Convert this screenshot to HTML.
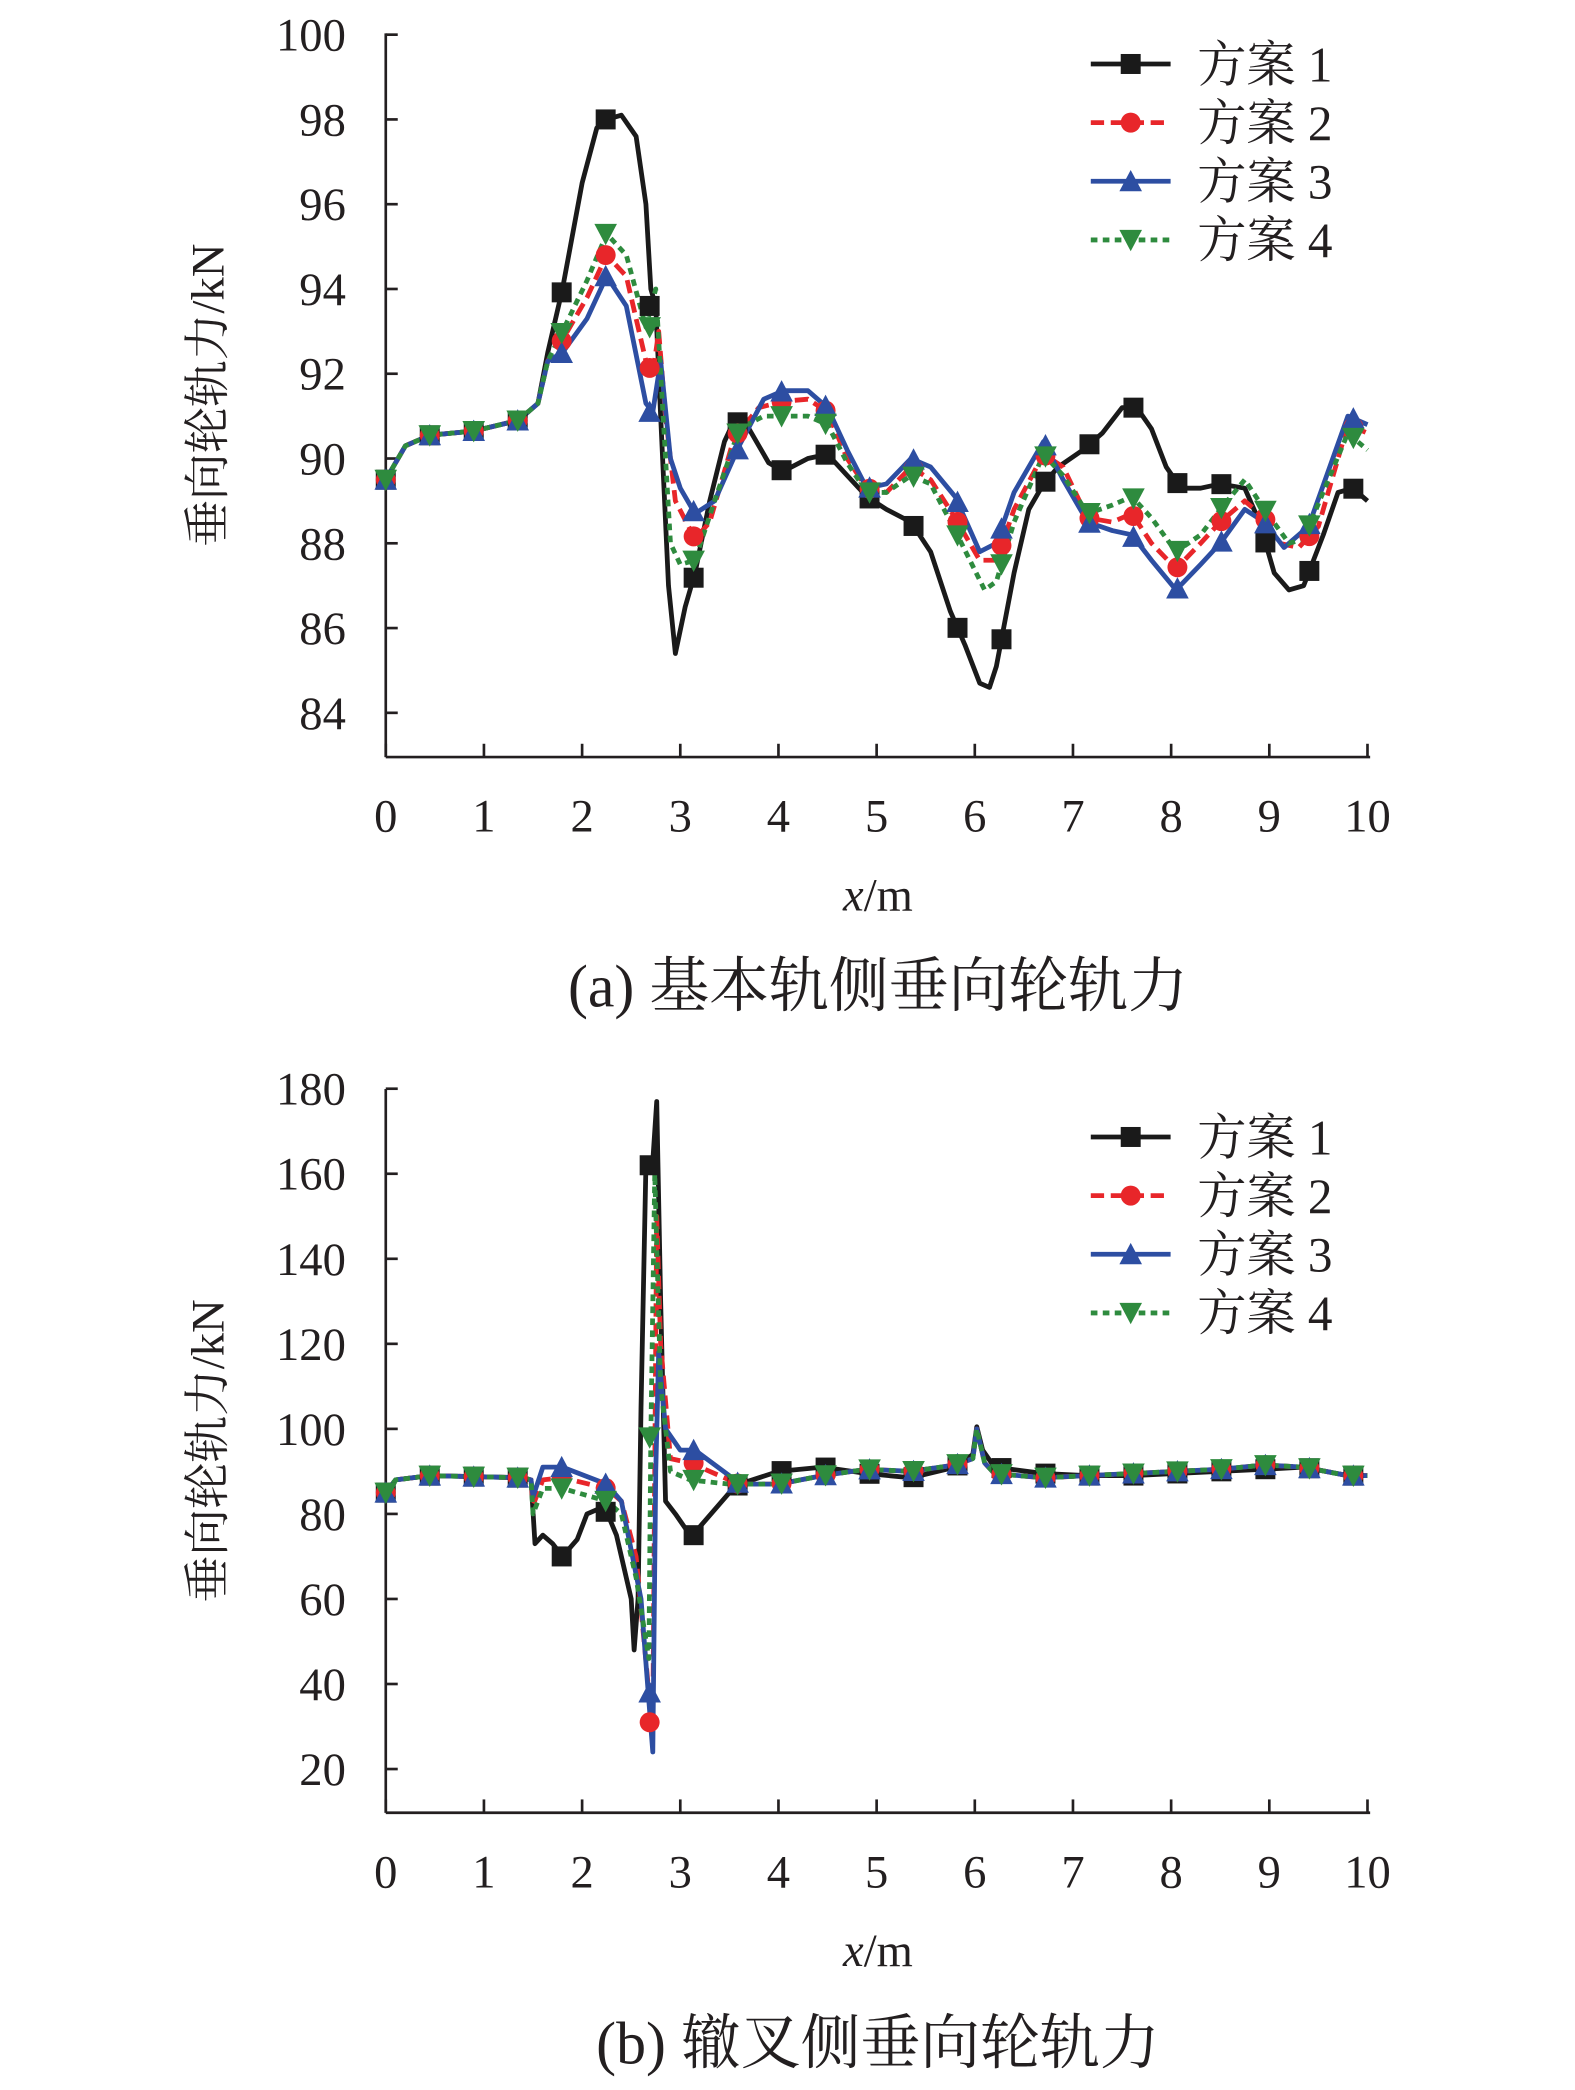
<!DOCTYPE html>
<html><head><meta charset="utf-8"><style>
html,body{margin:0;padding:0;background:#fff;}
svg{display:block;}
text{font-family:"Liberation Serif","Noto Serif CJK SC",serif;fill:#231f20;}
</style></head><body>
<svg id="s" width="1575" height="2090" viewBox="0 0 1184 1568" preserveAspectRatio="none" xmlns="http://www.w3.org/2000/svg"></svg>
<script>
const S=document.getElementById('s');let h='';
const X=v=>290+v*73.8;
const col=['#1a1a1a','#e8262a','#2d4ea2','#2e8b3e'];
const dash=['','10,5','','5,4'];
function mk(t,x,y,c){const r=7.5;
 if(t==0)return `<rect x="${x-r}" y="${y-r}" width="${2*r}" height="${2*r}" fill="${c}"/>`;
 if(t==1)return `<circle cx="${x}" cy="${y}" r="${r}" fill="${c}"/>`;
 if(t==2)return `<polygon points="${x},${y-r-1} ${x-r-1},${y+r} ${x+r+1},${y+r}" fill="${c}"/>`;
 return `<polygon points="${x},${y+r+1} ${x-r-1},${y-r} ${x+r+1},${y-r}" fill="${c}"/>`;}
function interp(d,x){for(let i=0;i<d.length-1;i++){if(x>=d[i][0]&&x<=d[i+1][0]){const t=(x-d[i][0])/(d[i+1][0]-d[i][0]||1);return d[i][1]+t*(d[i+1][1]-d[i][1]);}}return d[d.length-1][1];}
function chart(top,bot,Y,ticks,series,mkOverride,ly){
 h+=`<line x1="290" y1="${top}" x2="290" y2="${bot}" stroke="#231f20" stroke-width="2"/>`;
 h+=`<line x1="290" y1="${bot}" x2="1030" y2="${bot}" stroke="#231f20" stroke-width="2"/>`;
 for(const t of ticks){const y=Y(t);h+=`<line x1="290" y1="${y}" x2="299" y2="${y}" stroke="#231f20" stroke-width="2"/><text x="260" y="${y+12}" font-size="35" text-anchor="end">${t}</text>`;}
 for(let i=0;i<=10;i++){const x=X(i);h+=`<line x1="${x}" y1="${bot}" x2="${x}" y2="${bot-10}" stroke="#231f20" stroke-width="2"/><text x="${x}" y="${bot+56}" font-size="35" text-anchor="middle">${i}</text>`;}
 h+=`<text x="660" y="${bot+115}" font-size="35" text-anchor="middle"><tspan font-style="italic">x</tspan>/m</text>`;
 h+=`<text transform="translate(168,${(top+bot)/2}) rotate(-90)" font-size="35" text-anchor="middle">垂向轮轨力/kN</text>`;
 series.forEach((d,k)=>{h+=`<polyline fill="none" stroke="${col[k]}" stroke-width="3.6" stroke-linejoin="round" ${dash[k]?`stroke-dasharray="${dash[k]}"`:''} points="${d.map(p=>X(p[0])+','+Y(p[1])).join(' ')}"/>`;});
 series.forEach((d,k)=>{for(let i=0;i<23;i++){const xv=i*0.448;if(xv>10)break;let yv=interp(d,xv);const o=mkOverride[k]&&mkOverride[k][i];if(o!==undefined)yv=o;h+=mk(k,X(xv),Y(yv),col[k]);}});
 for(let k=0;k<4;k++){const y=ly+k*44;h+=`<line x1="820" y1="${y}" x2="880" y2="${y}" stroke="${col[k]}" stroke-width="3.6" ${dash[k]?`stroke-dasharray="${dash[k]}"`:''}/>`+mk(k,850,y,col[k])+`<text x="900" y="${y+13}" font-size="37">方案 ${k+1}</text>`;}
}
const YA=v=>344-(v-90)*31.8;
const A1=[[0,89.5],[0.2,90.3],[0.45,90.55],[0.9,90.65],[1.35,90.9],[1.55,91.3],[1.65,92.5],[1.8,94],[2.0,96.5],[2.15,97.8],[2.25,98.0],[2.4,98.1],[2.55,97.6],[2.65,96],[2.7,94],[2.75,93.6],[2.8,91],[2.88,87],[2.95,85.4],[3.05,86.5],[3.15,87.3],[3.3,89],[3.45,90.4],[3.55,90.9],[3.7,90.7],[3.9,89.9],[4.05,89.7],[4.3,90.0],[4.5,90.1],[4.7,89.6],[4.9,89.1],[5.1,88.8],[5.35,88.5],[5.55,87.8],[5.75,86.4],[5.9,85.6],[6.05,84.7],[6.15,84.6],[6.22,85.1],[6.4,87.3],[6.55,88.8],[6.7,89.4],[6.85,89.8],[7.1,90.2],[7.3,90.6],[7.5,91.2],[7.65,91.2],[7.8,90.7],[7.95,89.8],[8.1,89.3],[8.3,89.3],[8.5,89.4],[8.75,89.3],[8.9,88.5],[9.05,87.3],[9.2,86.9],[9.35,87.0],[9.55,88.2],[9.7,89.2],[9.85,89.3],[10,89.0]];
const base=[[0,89.5],[0.2,90.3],[0.45,90.55],[0.9,90.65],[1.35,90.9],[1.55,91.3],[1.65,92.3]];
const A2=base.concat([[1.8,92.8],[2.05,93.8],[2.25,94.8],[2.45,94.3],[2.65,92.3],[2.72,92],[2.78,93],[2.85,91],[2.95,89],[3.15,88.1],[3.3,88.5],[3.55,90.5],[3.8,91.2],[4.05,91.35],[4.3,91.4],[4.5,91.1],[4.7,90],[4.9,89.3],[5.1,89.2],[5.35,89.8],[5.55,89.5],[5.8,88.6],[6.05,87.6],[6.22,87.6],[6.4,88.8],[6.7,90.1],[6.9,89.8],[7.15,88.6],[7.4,88.5],[7.6,88.7],[7.8,88],[8.05,87.4],[8.3,88],[8.5,88.5],[8.75,89],[8.95,88.6],[9.1,88],[9.3,87.9],[9.5,88.4],[9.8,90.8],[10,90.6]]);
const A3=base.concat([[1.8,92.5],[2.05,93.3],[2.25,94.3],[2.45,93.6],[2.65,91.3],[2.72,91.1],[2.8,92.3],[2.9,90],[3.0,89.3],[3.15,88.7],[3.35,89],[3.6,90.3],[3.85,91.4],[4.05,91.6],[4.3,91.6],[4.5,91.2],[4.7,90.2],[4.9,89.3],[5.1,89.4],[5.35,90.0],[5.55,89.8],[5.8,89.1],[6.05,87.8],[6.22,88],[6.4,89.2],[6.7,90.4],[6.9,89.5],[7.15,88.5],[7.4,88.3],[7.6,88.2],[7.8,87.6],[8.05,86.9],[8.3,87.5],[8.5,88],[8.75,88.8],[8.95,88.5],[9.15,87.9],[9.4,88.4],[9.8,91],[10,90.8]]);
const A4=base.concat([[1.8,93],[2.05,94.2],[2.25,95.3],[2.45,94.8],[2.65,93.1],[2.75,94],[2.8,92],[2.9,88],[3.0,87.5],[3.15,87.6],[3.35,89],[3.6,90.7],[3.85,91.0],[4.05,91.0],[4.3,91.0],[4.5,90.8],[4.7,89.9],[4.9,89.2],[5.1,89.2],[5.35,89.6],[5.55,89.4],[5.8,88.3],[6.1,86.9],[6.22,87.1],[6.4,88.5],[6.7,90.1],[6.9,89.6],[7.15,88.7],[7.4,88.9],[7.6,89.1],[7.8,88.6],[8.05,87.8],[8.3,88.2],[8.5,88.8],[8.75,89.5],[8.95,88.8],[9.2,88],[9.35,88.1],[9.8,90.6],[10,90.2]]);
chart(25,568,YA,[100,98,96,94,92,90,88,86,84],[A1,A2,A3,A4],[{5:98,6:93.6},{5:94.8},{5:94.3,6:91.1},{5:95.3,6:93.1}],48);
h+=`<text x="660" y="755" font-size="45" text-anchor="middle">(a) 基本轨侧垂向轮轨力</text>`;
const YB=v=>1072-(v-100)*3.19;
const tail1=[[3.6,87],[4.0,90],[4.45,91],[4.9,89.5],[5.35,88.5],[5.8,91],[5.98,94],[6.02,100.5],[6.08,95],[6.2,91],[6.7,89.5],[7.15,89],[7.6,89],[8.05,89.5],[8.5,90],[8.95,90.5],[9.35,91],[9.8,89],[10,89]];
const tail=[[3.6,87],[4.0,87],[4.45,89],[4.9,90.5],[5.35,90],[5.8,91.5],[5.98,93],[6.02,100],[6.1,92],[6.2,89.5],[6.7,88.5],[7.15,89],[7.6,89.5],[8.05,90],[8.5,90.5],[8.95,91.5],[9.35,91],[9.8,89],[10,89]];
const bh=[[0,85],[0.1,88],[0.45,89],[1.4,88.5],[1.48,88]];
const B1=bh.concat([[1.52,73],[1.6,75],[1.7,73],[1.8,70],[1.95,74],[2.05,80],[2.15,81],[2.25,80.5],[2.35,75],[2.5,60],[2.53,48],[2.57,60],[2.6,105],[2.65,162],[2.72,163],[2.76,177],[2.8,130],[2.85,83],[2.95,80],[3.1,75],[3.2,77],[3.5,85]]).concat(tail1);
const B2=bh.concat([[1.5,82],[1.6,88],[1.8,88.5],[2.25,86],[2.4,83],[2.55,70],[2.68,38],[2.72,31],[2.76,150],[2.8,120],[2.9,93],[3.1,92],[3.5,88]]).concat(tail);
const B3=bh.concat([[1.5,84],[1.6,91],[1.8,91],[2.25,87],[2.4,83],[2.6,60],[2.72,24],[2.75,90],[2.78,118],[2.85,100],[3.0,95],[3.15,95],[3.5,89]]).concat(tail);
const B4=bh.concat([[1.5,80],[1.6,86],[1.8,86],[2.25,83],[2.4,80],[2.55,65],[2.68,46],[2.7,98],[2.74,160],[2.8,110],[2.9,90],[3.1,88],[3.5,87]]).concat(tail);
chart(817,1360,YB,[180,160,140,120,100,80,60,40,20],[B1,B2,B3,B4],[{4:70,5:80.5,6:162,7:75},{6:31,7:92},{6:38,7:95},{6:98,7:88}],853);
h+=`<text x="660" y="1548" font-size="45" text-anchor="middle">(b) 辙叉侧垂向轮轨力</text>`;
S.innerHTML=h;
</script>
</body></html>
